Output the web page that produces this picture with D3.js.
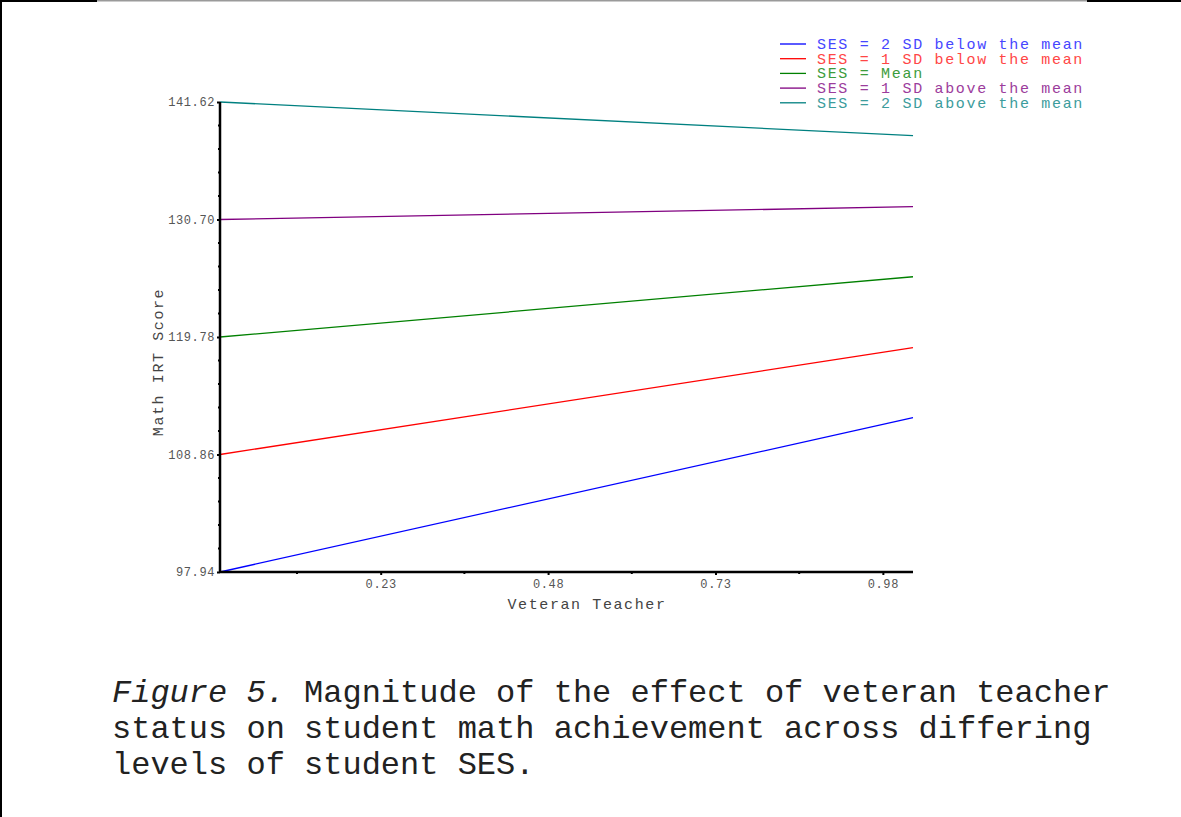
<!DOCTYPE html>
<html>
<head>
<meta charset="utf-8">
<script src="https://cdn.jsdelivr.net/npm/d3@7"></script>
<style>
  body { margin: 0; background: #fff; }
  svg { display: block; }
  text { font-family: "Liberation Mono", "Courier New", monospace; }
</style>
</head>
<body>
<svg id="chart" width="1181" height="817"></svg>
<script>
// data
const xRange = [-0.01, 1.025];           // veteran teacher, axis ends
const yRange = [97.94, 141.62];          // math IRT score, axis ends
const xTicks = [0.23, 0.48, 0.73, 0.98];
const xMinor = [0.105, 0.355, 0.605, 0.855];
const yTicks = [97.94, 108.86, 119.78, 130.70, 141.62];
const seriesNames = [
    'SES = 2 SD below the mean',
    'SES = 1 SD below the mean',
    'SES = Mean',
    'SES = 1 SD above the mean',
    'SES = 2 SD above the mean'
];
const startValues = [97.94, 108.86, 119.78, 130.70, 141.62];
const endValues = [112.28, 118.79, 125.38, 131.89, 138.49];
const lineColors = ['#0000ff', '#ff0000', '#008000', '#800080', '#008080'];
const textColors = ['#4646ff', '#ff4646', '#3c9c3c', '#9c3c9c', '#3c9c9c'];
const caption = [
    ['Figure 5.', ' Magnitude of the effect of veteran teacher'],
    ['', 'status on student math achievement across differing'],
    ['', 'levels of student SES.']
];

const svg = d3.select('#chart');

// page frame
svg.append('rect').attr('x', 0).attr('y', 0).attr('width', 2).attr('height', 817).attr('fill', '#000');
svg.append('rect').attr('x', 0).attr('y', 0).attr('width', 97).attr('height', 2).attr('fill', '#000');
svg.append('rect').attr('x', 97).attr('y', 0).attr('width', 990).attr('height', 1.5).attr('fill', '#9a9a9a');
svg.append('rect').attr('x', 1087).attr('y', 0).attr('width', 94).attr('height', 2).attr('fill', '#000');

const x = d3.scaleLinear().domain(xRange).range([220, 913]);
const y = d3.scaleLinear().domain(yRange).range([572, 102]);

// minor y ticks every fifth of a major step
const yStep = (yTicks[1] - yTicks[0]) / 5;
const yMinor = d3.range(1, 20).filter(i => i % 5 !== 0).map(i => yTicks[0] + i * yStep);

const g = svg.append('g');

// lines
const line = d3.line().x(d => x(d[0])).y(d => y(d[1]));
seriesNames.forEach(function (name, i) {
    g.append('path')
        .datum([[xRange[0], startValues[i]], [xRange[1], endValues[i]]])
        .attr('d', line)
        .attr('fill', 'none')
        .attr('stroke', lineColors[i])
        .attr('stroke-width', 1.3);
});

// y axis
const yAxis = g.append('g').attr('transform', 'translate(220,0)');
yAxis.call(d3.axisLeft(y).tickValues(yTicks).tickFormat(d3.format('.2f')).tickSize(3).tickPadding(2));
yAxis.append('g').selectAll('line').data(yMinor).join('line')
    .attr('x1', -2).attr('x2', 0).attr('y1', d => y(d)).attr('y2', d => y(d))
    .attr('stroke', '#000').attr('stroke-width', 2);

// x axis
const xAxis = g.append('g').attr('transform', 'translate(0,572)');
xAxis.call(d3.axisBottom(x).tickValues(xTicks).tickFormat(d3.format('.2f')).tickSize(3).tickPadding(4));
xAxis.append('g').selectAll('line').data(xMinor).join('line')
    .attr('x1', d => x(d)).attr('x2', d => x(d)).attr('y1', 0).attr('y2', 2)
    .attr('stroke', '#000').attr('stroke-width', 2);

[yAxis, xAxis].forEach(function (a) {
    a.select('.domain').attr('stroke', '#000').attr('stroke-width', 2.5);
    a.selectAll('.tick line').attr('stroke', '#000').attr('stroke-width', 2);
    a.selectAll('.tick text')
        .attr('fill', '#555')
        .style('font-family', '"Liberation Mono", monospace')
        .style('font-size', '12px')
        .style('letter-spacing', '0.6px');
});
yAxis.select('.domain').attr('d', 'M0,' + y(yRange[1]) + 'V' + y(yRange[0]));
xAxis.select('.domain').attr('d', 'M' + x(xRange[0]) + ',0H' + x(xRange[1]));

// axis titles
g.append('text')
    .attr('x', 587).attr('y', 609)
    .attr('text-anchor', 'middle')
    .attr('fill', '#444')
    .style('font-size', '15px').style('letter-spacing', '1.6px')
    .text('Veteran Teacher');
g.append('text')
    .attr('transform', 'translate(163,362) rotate(-90)')
    .attr('text-anchor', 'middle')
    .attr('fill', '#444')
    .style('font-size', '15px').style('letter-spacing', '1.6px')
    .text('Math IRT Score');

// legend
const legend = g.append('g').attr('transform', 'translate(780,44)');
const items = legend.selectAll('g').data(seriesNames).join('g')
    .attr('transform', (d, i) => 'translate(0,' + (i * 14.7) + ')');
items.append('line')
    .attr('x1', 0).attr('x2', 26).attr('y1', 0).attr('y2', 0)
    .attr('stroke', (d, i) => lineColors[i]).attr('stroke-width', 1.3);
items.append('text')
    .attr('x', 37).attr('y', 5)
    .attr('fill', (d, i) => textColors[i])
    .style('font-size', '15px').style('letter-spacing', '1.68px')
    .text(d => d);

// caption
const cap = svg.append('g');
caption.forEach(function (row, i) {
    const t = cap.append('text')
        .attr('x', 112).attr('y', 702 + i * 36)
        .attr('fill', '#222')
        .style('font-size', '32px')
        .attr('xml:space', 'preserve');
    if (row[0]) t.append('tspan').style('font-style', 'italic').text(row[0]);
    t.append('tspan').text(row[1]);
});
</script>
</body>
</html>
